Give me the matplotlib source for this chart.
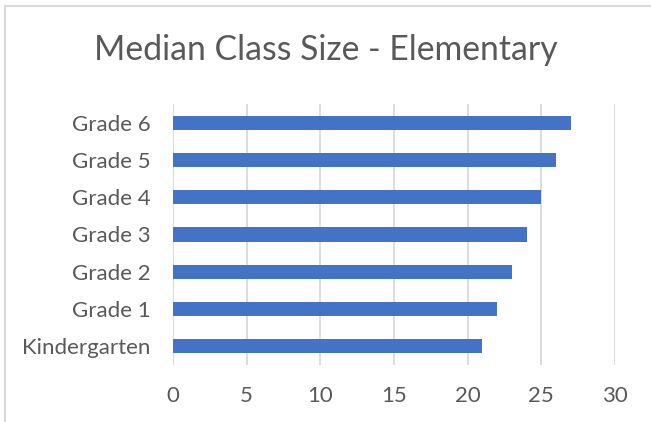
import matplotlib
matplotlib.use("Agg")
from matplotlib import pyplot as plt
from matplotlib.lines import Line2D

# data
categories = ["Kindergarten", "Grade 1", "Grade 2", "Grade 3", "Grade 4", "Grade 5", "Grade 6"]
class_size = [21, 22, 23, 24, 25, 26, 27]
x_ticks = [0, 5, 10, 15, 20, 25, 30]

text_col = "#595959"
grid_col = "#d9d9d9"
bar_col = "#4472c4"

plt.rcParams["font.family"] = ["Lato", "DejaVu Sans"]

fig = plt.figure(figsize=(6.51, 4.22), dpi=100)
ax = fig.add_axes([173 / 651, 1 - 365 / 422, (615 - 173) / 651, (365 - 104) / 422])

ax.barh(categories, class_size, height=0.38, color=bar_col, zorder=3)
ax.set_xlim(0, 30)
ax.set_ylim(-0.5, len(categories) - 0.5)
ax.set_xticks(x_ticks)
ax.xaxis.grid(True, color=grid_col, lw=1.3, zorder=0)
for s in ax.spines.values():
    s.set_visible(False)
ax.tick_params(axis="both", length=0, labelsize=16, labelcolor=text_col)
ax.tick_params(axis="x", pad=15)
ax.tick_params(axis="y", pad=16)

fig.text(0.5, 1 - 50 / 422, "Median Class Size - Elementary", ha="center", va="center",
         fontsize=24.3, color=text_col)

# chart border (top and left visible)
fig.add_artist(Line2D([5 / 651, 5 / 651], [0, 1 - 6 / 422], color=grid_col, lw=1.5, transform=fig.transFigure))
fig.add_artist(Line2D([5 / 651, 1], [1 - 6 / 422, 1 - 6 / 422], color=grid_col, lw=1.5, transform=fig.transFigure))

fig.savefig("out.png", dpi=100)
